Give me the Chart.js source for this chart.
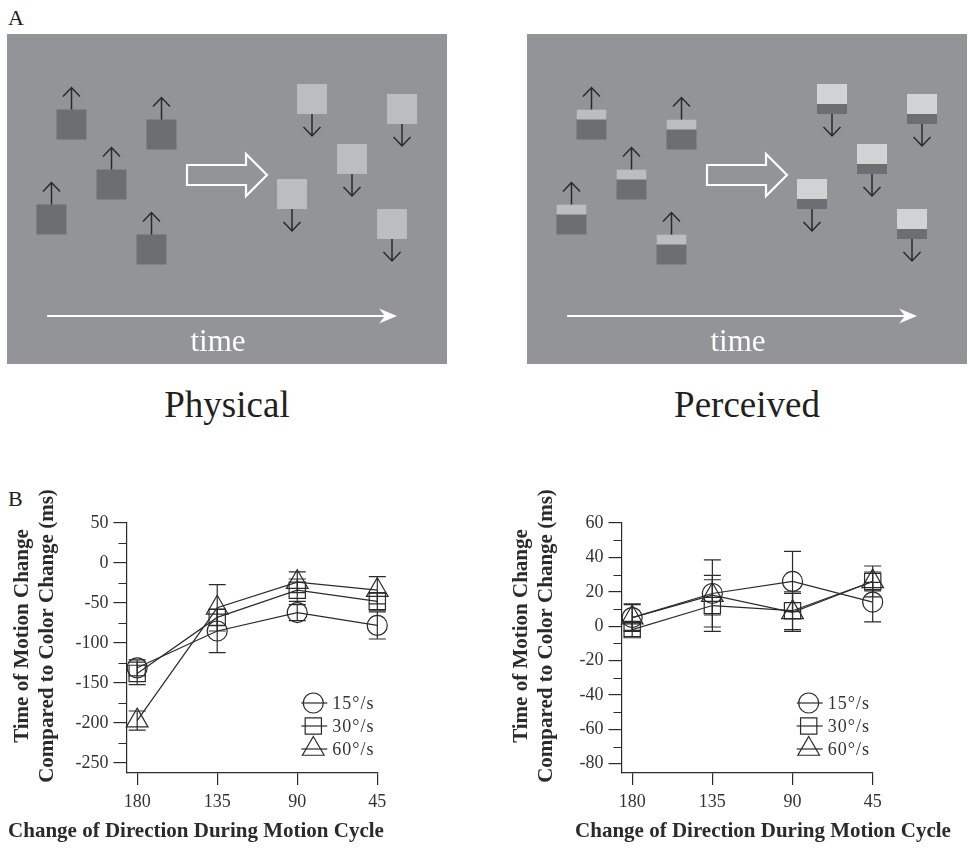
<!DOCTYPE html>
<html>
<head>
<meta charset="utf-8">
<title>Motion change vs colour change</title>
<script src="https://cdn.jsdelivr.net/npm/chart.js@4.4.1/dist/chart.umd.min.js"></script>
<style>
  html, body { margin: 0; padding: 0; background: #fff; }
  body { position: relative; width: 970px; height: 848px; overflow: hidden; font-family: "Liberation Serif", serif; color: #231f20; }
  canvas { position: absolute; }
  .label { position: absolute; line-height: 1; white-space: nowrap; }
</style>
</head>
<body>
<div class="label" style="left:8px;top:7px;font-size:22px">A</div>
<div class="label" style="left:8px;top:488px;font-size:22px">B</div>
<div class="label" style="left:127px;width:200px;text-align:center;top:386px;font-size:37px">Physical</div>
<div class="label" style="left:647px;width:200px;text-align:center;top:386px;font-size:37px">Perceived</div>

<canvas id="physicalScene" width="440" height="330" style="left:7px;top:34px"></canvas>
<canvas id="perceivedScene" width="440" height="330" style="left:527px;top:34px"></canvas>
<canvas id="physicalChart" width="480" height="358" style="left:0;top:490px"></canvas>
<canvas id="perceivedChart" width="475" height="358" style="left:495px;top:490px"></canvas>

<script>
// ---- panel A: stimulus sketch (panel units, 440 x 330) ----
const risingSquares = [[64.5, 90.5], [154.5, 100.5], [104.5, 150.5], [44.5, 185.5], [144.5, 215.5]];
const fallingSquares = [[305, 65], [395, 75], [345, 125], [285, 160], [385, 190]];
const hollowArrow = [[180, 131], [239, 131], [239, 120], [260, 141], [239, 162], [239, 151], [180, 151]];
const timeLine = [40, 385, 282];
const timeHead = [[390, 282], [372, 274.5], [378, 282], [372, 289.5]];

// ---- panel B: data ----
const directions = [180, 135, 90, 45];
const speedLabels = ['15°/s', '30°/s', '60°/s'];

const physical15 = [-131, -85, -62, -78];
const physical30 = [-138, -68, -34, -48];
const physical60 = [-197, -56, -24, -34];
const physicalErr15 = [10, 27, 10, 17];
const physicalErr30 = [14, 10, 14, 11];
const physicalErr60 = [12, 29, 13, 17];

const perceived15 = [5, 19, 26, 14];
const perceived30 = [-2, 12, 9, 26];
const perceived60 = [5, 18, 8, 26];
const perceivedErr15 = [7.5, 19.5, 17.5, 11.5];
const perceivedErr30 = [4, 15, 11, 5.5];
const perceivedErr60 = [8, 11.5, 11, 9];

const physicalTicks = [50, 0, -50, -100, -150, -200, -250];
const physicalMinor = [25, -25, -75, -125, -175, -225];
const perceivedTicks = [60, 40, 20, 0, -20, -40, -60, -80];
const perceivedMinor = [50, 30, 10, -10, -30, -50, -70];

const yTitle = ['Time of Motion Change', 'Compared to Color Change (ms)'];
const xTitle = 'Change of Direction During Motion Cycle';

const INK = '#2b2b2b';
const BG = '#939498';
const DARK = '#6d6e71';
const LIGHT = '#bcbdc0';
const LIGHTER = '#d1d2d4';

Chart.defaults.font.family = '"Liberation Serif", serif';
Chart.defaults.color = '#333';

function drawSquare(ctx, cx, cy, up, perceived) {
  const s = 30, left = cx - s / 2, top = cy - s / 2;
  if (up) {
    ctx.fillStyle = DARK;
    ctx.fillRect(left, top, s, s);
    if (perceived) { ctx.fillStyle = LIGHT; ctx.fillRect(left, top, s, 10); }
  } else {
    ctx.fillStyle = perceived ? LIGHTER : LIGHT;
    ctx.fillRect(left, top, s, s);
    if (perceived) { ctx.fillStyle = DARK; ctx.fillRect(left, top + 20, s, 10); }
  }
  const base = up ? top : top + s;
  const tip = up ? base - 22 : base + 22;
  const d = up ? 1 : -1;
  ctx.strokeStyle = '#2a2a2a';
  ctx.lineWidth = 1.5;
  ctx.beginPath();
  ctx.moveTo(cx, base); ctx.lineTo(cx, tip);
  ctx.moveTo(cx - 8.5, tip + 9 * d); ctx.lineTo(cx, tip); ctx.lineTo(cx + 8.5, tip + 9 * d);
  ctx.stroke();
}

const scenePlugin = {
  id: 'scene',
  beforeDatasetsDraw(chart, args, opts) {
    const {ctx, chartArea: a, scales: {x, y}} = chart;
    const px = v => x.getPixelForValue(v), py = v => y.getPixelForValue(v);
    ctx.save();
    ctx.fillStyle = BG;
    ctx.fillRect(a.left, a.top, a.width, a.height);

    // big hollow arrow
    ctx.strokeStyle = '#fff';
    ctx.lineWidth = 2.2;
    ctx.lineJoin = 'miter';
    ctx.beginPath();
    hollowArrow.forEach(([vx, vy], i) => i ? ctx.lineTo(px(vx), py(vy)) : ctx.moveTo(px(vx), py(vy)));
    ctx.closePath();
    ctx.stroke();

    // time axis
    ctx.lineWidth = 2.2;
    ctx.beginPath();
    ctx.moveTo(px(timeLine[0]), py(timeLine[2]));
    ctx.lineTo(px(timeLine[1]), py(timeLine[2]));
    ctx.stroke();
    ctx.fillStyle = '#fff';
    ctx.beginPath();
    timeHead.forEach(([vx, vy], i) => i ? ctx.lineTo(px(vx), py(vy)) : ctx.moveTo(px(vx), py(vy)));
    ctx.closePath();
    ctx.fill();
    ctx.font = '31px "Liberation Serif"';
    ctx.textAlign = 'center';
    ctx.fillText('time', px(211), py(317));

    chart.getDatasetMeta(0).data.forEach(p => drawSquare(ctx, p.x, p.y, true, opts.perceived));
    chart.getDatasetMeta(1).data.forEach(p => drawSquare(ctx, p.x, p.y, false, opts.perceived));
    ctx.restore();
  }
};

function makeScene(id, perceived) {
  return new Chart(document.getElementById(id), {
    type: 'scatter',
    data: {
      datasets: [
        { label: 'before', data: risingSquares.map(([x, y]) => ({x, y})), pointRadius: 0 },
        { label: 'after', data: fallingSquares.map(([x, y]) => ({x, y})), pointRadius: 0 }
      ]
    },
    options: {
      responsive: false,
      animation: false,
      events: [],
      layout: { padding: 0 },
      plugins: { legend: { display: false }, tooltip: { enabled: false }, scene: { perceived } },
      scales: {
        x: { type: 'linear', min: 0, max: 440, display: false },
        y: { type: 'linear', min: 0, max: 330, reverse: true, display: false }
      }
    },
    plugins: [scenePlugin]
  });
}

// error bars through each mean
const errorBarsPlugin = {
  id: 'errorBars',
  afterDatasetsDraw(chart) {
    const {ctx, scales: {y}} = chart;
    ctx.save();
    ctx.strokeStyle = INK;
    ctx.lineWidth = 1.2;
    chart.data.datasets.forEach((ds, i) => {
      chart.getDatasetMeta(i).data.forEach((p, j) => {
        const v = ds.data[j].y, e = ds.errors[j];
        const top = y.getPixelForValue(v + e), bot = y.getPixelForValue(v - e);
        ctx.beginPath();
        ctx.moveTo(p.x, top); ctx.lineTo(p.x, bot);
        ctx.moveTo(p.x - 8.5, top); ctx.lineTo(p.x + 8.5, top);
        ctx.moveTo(p.x - 8.5, bot); ctx.lineTo(p.x + 8.5, bot);
        ctx.stroke();
      });
    });
    ctx.restore();
  }
};

const minorTicksPlugin = {
  id: 'minorTicks',
  afterDraw(chart, args, opts) {
    const {ctx, chartArea: a, scales: {y}} = chart;
    ctx.save();
    ctx.strokeStyle = INK;
    ctx.lineWidth = 1.2;
    ctx.beginPath();
    opts.values.forEach(v => {
      const py = Math.round(y.getPixelForValue(v)) + 0.5;
      ctx.moveTo(a.left - 8, py); ctx.lineTo(a.left, py);
    });
    ctx.stroke();
    ctx.restore();
  }
};

const keyPlugin = {
  id: 'key',
  afterDraw(chart) {
    const {ctx, chartArea: a} = chart;
    const rows = [-70, -47, -24];
    const mx = a.right - 64;
    ctx.save();
    ctx.strokeStyle = INK;
    ctx.lineWidth = 1.2;
    chart.data.datasets.forEach((ds, i) => {
      const my = a.bottom + rows[i];
      ctx.beginPath();
      ctx.moveTo(mx - 12, my); ctx.lineTo(mx + 14, my);
      ctx.stroke();
      ctx.fillStyle = 'rgba(0,0,0,0)';
      Chart.helpers.drawPoint(ctx, { pointStyle: ds.pointStyle, radius: ds.pointRadius, borderWidth: 1.2, rotation: 0 }, mx, my);
      ctx.fillStyle = '#333';
      ctx.font = '18px "Liberation Serif"';
      ctx.textAlign = 'left';
      ctx.textBaseline = 'middle';
      if ('letterSpacing' in ctx) ctx.letterSpacing = '1px';
      ctx.fillText(ds.label, mx + 19, my + 1);
      if ('letterSpacing' in ctx) ctx.letterSpacing = '0px';
    });
    ctx.restore();
  }
};

const axisTitlesPlugin = {
  id: 'axisTitles',
  afterDraw(chart, args, opts) {
    const {ctx} = chart;
    ctx.save();
    ctx.fillStyle = '#2b2b2b';
    ctx.font = 'bold 21px "Liberation Serif"';
    ctx.textAlign = 'center';
    ctx.textBaseline = 'middle';
    ctx.save();
    ctx.translate(opts.yX, opts.yY);
    ctx.rotate(-Math.PI / 2);
    yTitle.forEach((t, i) => ctx.fillText(t, 0, i * 25));
    ctx.restore();
    ctx.textBaseline = 'alphabetic';
    ctx.fillText(xTitle, opts.xX, opts.xY);
    ctx.restore();
  }
};

function makeResultChart(id, means, errors, yTicks, yMinor, yMin, yMax, rightPad, titles) {
  const markers = ['circle', 'rect', 'triangle'];
  const radii = [10, 11.5, 12.5];
  return new Chart(document.getElementById(id), {
    type: 'line',
    data: {
      datasets: means.map((m, i) => ({
        label: speedLabels[i],
        data: directions.map((d, j) => ({x: d, y: m[j]})),
        errors: errors[i],
        borderColor: INK,
        borderWidth: 1.2,
        pointStyle: markers[i],
        pointRadius: radii[i],
        pointBackgroundColor: 'rgba(0,0,0,0)',
        pointBorderColor: INK,
        pointBorderWidth: 1.2,
        tension: 0,
        clip: false
      }))
    },
    options: {
      responsive: false,
      animation: false,
      events: [],
      layout: { padding: { top: 33, right: rightPad, left: 0, bottom: 0 } },
      plugins: {
        legend: { display: false },
        tooltip: { enabled: false },
        minorTicks: { values: yMinor },
        axisTitles: titles
      },
      scales: {
        x: {
          type: 'linear', reverse: true, min: 45, max: 186,
          afterBuildTicks: s => { s.ticks = directions.map(v => ({value: v})); },
          afterFit: s => { s.height = 75; },
          grid: { drawOnChartArea: false, drawTicks: true, tickLength: 12, color: INK, lineWidth: 1.2 },
          border: { display: true, color: INK, width: 1.2 },
          ticks: { color: '#333', font: { size: 18 }, padding: 6, maxRotation: 0, autoSkip: false }
        },
        y: {
          type: 'linear', min: yMin, max: yMax,
          afterBuildTicks: s => { s.ticks = yTicks.map(v => ({value: v})); },
          afterFit: s => { s.width = 126.5; },
          grid: { drawOnChartArea: false, drawTicks: true, tickLength: 13, color: INK, lineWidth: 1.2 },
          border: { display: true, color: INK, width: 1.2 },
          ticks: { color: '#333', font: { size: 18 }, padding: 5, autoSkip: false }
        }
      }
    },
    plugins: [errorBarsPlugin, minorTicksPlugin, keyPlugin, axisTitlesPlugin]
  });
}

makeScene('physicalScene', false);
makeScene('perceivedScene', true);

makeResultChart('physicalChart',
  [physical15, physical30, physical60],
  [physicalErr15, physicalErr30, physicalErr60],
  physicalTicks, physicalMinor, -262.5, 50, 102.7,
  { yX: 22.5, yY: 146, xX: 196, xY: 347 });

makeResultChart('perceivedChart',
  [perceived15, perceived30, perceived60],
  [perceivedErr15, perceivedErr30, perceivedErr60],
  perceivedTicks, perceivedMinor, -85.4, 60, 97.3,
  { yX: 27, yY: 146, xX: 268, xY: 347 });
</script>
</body>
</html>
